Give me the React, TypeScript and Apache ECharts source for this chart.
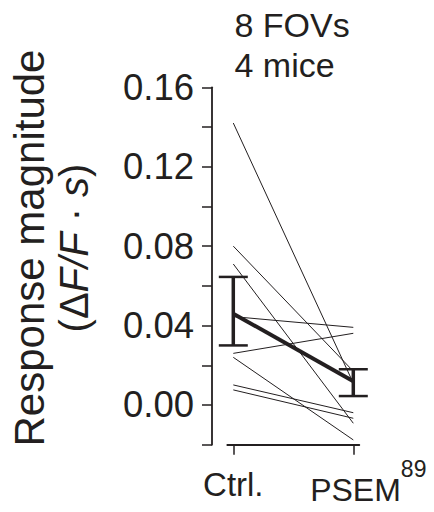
import React, { useEffect, useRef } from "react";
import * as echarts from "echarts";

// Per-FOV response magnitudes (ΔF/F · s), paired Ctrl → PSEM89
const ctrlValues = [0.142, 0.08, 0.071, 0.0445, 0.026, 0.024, 0.0101, 0.0076];
const psemValues = [0.011, 0.017, -0.0092, 0.0391, 0.0361, -0.0176, -0.0039, -0.0067];

// Group mean ± SEM
const meanValues = [0.046, 0.012];
const semLow = [0.030, 0.0045];
const semHigh = [0.0645, 0.018];

const conditionPositions = [0, 1];
const conditionLabels = ["{c|Ctrl.}", "{sp| }{p|PSEM}{s|89}"];
const yTickLabels = ["0.00", "0.04", "0.08", "0.12", "0.16"];

const INK = "#231f20";
const FONT = "'Liberation Sans', Arial, Helvetica, sans-serif";

export default function App() {
  const ref = useRef<HTMLDivElement>(null);

  useEffect(() => {
    if (!ref.current) return;
    const chart = echarts.init(ref.current, undefined, { renderer: "svg" });

    const pairSeries = ctrlValues.map((c, i) => ({
      type: "line",
      data: [
        [conditionPositions[0], c],
        [conditionPositions[1], psemValues[i]],
      ],
      symbol: "none",
      lineStyle: { color: INK, width: 1 },
      z: 2,
      silent: true,
    }));

    const option: any = {
      animation: false,
      backgroundColor: "#ffffff",
      textStyle: { fontFamily: FONT, color: INK },
      grid: { left: 227.3, right: 74.7, top: 87.3, bottom: 67.3, containLabel: false },
      xAxis: {
        type: "value",
        min: -0.05,
        max: 1.05,
        axisLine: { show: true, onZero: false, lineStyle: { color: INK, width: 1.8 } },
        axisTick: { show: true, length: 10, customValues: conditionPositions, lineStyle: { color: INK, width: 1.5 } },
        axisLabel: {
          customValues: conditionPositions,
          margin: 10,
          formatter: (v: number) => {
            const idx = conditionPositions.indexOf(Math.round(v));
            return idx >= 0 ? conditionLabels[idx] : "";
          },
          rich: {
            c: { fontFamily: FONT, fontSize: 33, color: INK, lineHeight: 60 },
            sp: { width: 30, fontSize: 10, lineHeight: 10 },
            p: { fontFamily: FONT, fontSize: 32, color: INK, lineHeight: 70 },
            s: { fontFamily: FONT, fontSize: 23, color: INK, verticalAlign: "top", padding: [3, 0, 0, 0] },
          },
        },
        splitLine: { show: false },
      },
      yAxis: {
        type: "value",
        min: -0.02,
        max: 0.16,
        interval: 0.02,
        offset: 15.3,
        axisLine: { show: true, onZero: false, lineStyle: { color: INK, width: 1.8 } },
        axisTick: { show: true, length: 10, lineStyle: { color: INK, width: 1.5 } },
        axisLabel: {
          margin: 18,
          fontFamily: FONT,
          fontSize: 36.5,
          color: INK,
          formatter: (v: number) => {
            const s = v.toFixed(2);
            return yTickLabels.indexOf(s) >= 0 ? s : "";
          },
        },
        splitLine: { show: false },
      },
      graphic: [
        {
          type: "text",
          x: 234.5,
          y: 5.2,
          style: {
            text: "8 FOVs\n4 mice",
            font: `34px ${FONT}`,
            fill: INK,
            lineHeight: 40,
            align: "left",
            verticalAlign: "top",
          },
        },
        {
          type: "text",
          x: 51.5,
          y: 248,
          rotation: Math.PI / 2,
          style: {
            text: "{a|Response magnitude}\n{b|(Δ}{i|F/F}{b| · }{i|s}{b|)}",
            align: "center",
            verticalAlign: "middle",
            fill: INK,
            rich: {
              a: { fontFamily: FONT, fontSize: 42, lineHeight: 45, fill: INK },
              b: { fontFamily: FONT, fontSize: 40, lineHeight: 45, fill: INK },
              i: { fontFamily: FONT, fontSize: 40, fontStyle: "italic", lineHeight: 45, fill: INK },
            },
          },
        },
      ],
      series: [
        ...pairSeries,
        {
          type: "line",
          data: conditionPositions.map((x, i) => [x, meanValues[i]]),
          symbol: "none",
          lineStyle: { color: INK, width: 4 },
          z: 3,
          silent: true,
        },
        {
          type: "custom",
          data: conditionPositions.map((x, i) => [x, semLow[i], semHigh[i]]),
          encode: { x: 0, y: [1, 2] },
          z: 4,
          silent: true,
          renderItem: (params: any, api: any) => {
            const x = api.value(0);
            const lo = api.coord([x, api.value(1)]);
            const hi = api.coord([x, api.value(2)]);
            const half = 14.5;
            const stroke = { stroke: INK, fill: "none" };
            return {
              type: "group",
              children: [
                { type: "line", shape: { x1: lo[0], y1: lo[1], x2: hi[0], y2: hi[1] }, style: { ...stroke, lineWidth: 3.5 } },
                { type: "line", shape: { x1: hi[0] - half, y1: hi[1], x2: hi[0] + half, y2: hi[1] }, style: { ...stroke, lineWidth: 2.5 } },
                { type: "line", shape: { x1: lo[0] - half, y1: lo[1], x2: lo[0] + half, y2: lo[1] }, style: { ...stroke, lineWidth: 2.5 } },
              ],
            };
          },
        },
      ],
    };

    chart.setOption(option);
    return () => chart.dispose();
  }, []);

  return (
    <div
      ref={ref}
      style={{ position: "fixed", left: 0, top: 0, width: 434, height: 512, background: "#fff" }}
    />
  );
}
